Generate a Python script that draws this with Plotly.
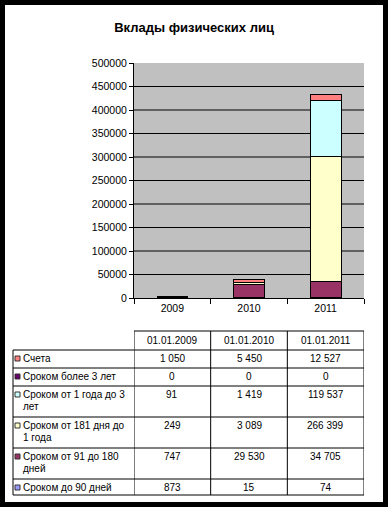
import plotly.graph_objects as go

# ---------------- data ----------------
categories = ["2009", "2010", "2011"]
table_headers = ["01.01.2009", "01.01.2010", "01.01.2011"]

# stacked bottom -> top
series_names = [
    "Сроком до 90 дней",
    "Сроком от 91 до 180 дней",
    "Сроком от 181 дня до 1 года",
    "Сроком от 1 года до 3 лет",
    "Сроком более 3 лет",
    "Счета",
]
table_labels = [
    "Сроком до 90 дней",
    "Сроком от 91 до 180<br>дней",
    "Сроком от 181 дня до<br>1 года",
    "Сроком от 1 года до 3<br>лет",
    "Сроком более 3 лет",
    "Счета",
]
series_colors = ["#9999FF", "#993366", "#FFFFCC", "#CCFFFF", "#660066", "#FF8080"]

do_90 = [873, 15, 74]
ot_91_180 = [747, 29530, 34705]
ot_181_1g = [249, 3089, 266399]
ot_1_3 = [91, 1419, 119537]
bolee_3 = [0, 0, 0]
scheta = [1050, 5450, 12527]
series_values = [do_90, ot_91_180, ot_181_1g, ot_1_3, bolee_3, scheta]

y_ticks = list(range(0, 500001, 50000))

# ---------------- layout geometry (pixels) ----------------
W, H = 388, 507
L, R, T, B = 134, 24, 63, 209
PW, PH = W - L - R, H - T - B
FONT = "Liberation Sans, Arial, sans-serif"


def px(x):
    return (x - L) / PW


def py(y):
    return (H - B - y) / PH


fig = go.Figure()
for name, vals, col in zip(series_names, series_values, series_colors):
    fig.add_trace(go.Bar(
        x=categories, y=vals, name=name,
        marker=dict(color=col, line=dict(color="black", width=1)),
    ))

shapes = []
annotations = []

# gridlines (interior ticks only, as in the reference)
for v in y_ticks[1:-1]:
    shapes.append(dict(type="line", xref="paper", yref="y", x0=0, x1=1, y0=v, y1=v,
                       line=dict(color="black", width=1), layer="below"))

# ---- table ----
header_top, header_bot = 331, 350
table_left, label_x, sq_x0, sq_x1 = 13, 21, 15, 20

rows = list(zip(table_labels, series_colors, series_values))[::-1]  # top row = Счета
row_tops = []
top = header_bot
for idx, (lab, col, vals) in enumerate(rows):
    n = lab.count("<br>") + 1
    h = 18 if n == 1 else 31
    if idx == len(rows) - 1:
        h = 16
    row_tops.append((top, h))
    top += h
table_bottom = top

line_style = dict(color="black", width=1)
# horizontal lines
shapes.append(dict(type="line", xref="paper", yref="paper", x0=0, x1=1,
                   y0=py(header_top), y1=py(header_top), line=line_style))
for y in [header_bot] + [t + h for t, h in row_tops]:
    shapes.append(dict(type="line", xref="paper", yref="paper", x0=px(table_left), x1=1,
                       y0=py(y), y1=py(y), line=line_style))
# vertical lines
shapes.append(dict(type="line", xref="paper", yref="paper", x0=px(table_left), x1=px(table_left),
                   y0=py(header_bot), y1=py(table_bottom), line=line_style))
for i in range(len(categories) + 1):
    xb = i - 0.5
    shapes.append(dict(type="line", xref="x", yref="paper", x0=xb, x1=xb,
                       y0=py(header_top), y1=py(table_bottom), line=line_style))

tfont = dict(family=FONT, size=10, color="black")
for j, hd in enumerate(table_headers):
    annotations.append(dict(text=hd, x=j, xref="x", y=py((header_top + header_bot) / 2),
                            yref="paper", xanchor="center", yanchor="middle", showarrow=False, font=tfont))

for (lab, col, vals), (t, h) in zip(rows, row_tops):
    c = t + 8.5
    for k, part in enumerate(lab.split("<br>")):
        annotations.append(dict(text=part, x=px(label_x), xref="paper", y=py(c + 12 * k), yref="paper",
                                xanchor="left", yanchor="middle", showarrow=False, font=tfont))
    shapes.append(dict(type="rect", xref="paper", yref="paper", x0=px(sq_x0), x1=px(sq_x1),
                       y0=py(c + 2.5), y1=py(c - 2.5), fillcolor=col,
                       line=dict(color="#333333", width=1)))
    for j, v in enumerate(vals):
        annotations.append(dict(text=f"{v:,}".replace(",", " "), x=j, xref="x", y=py(c),
                                yref="paper", xanchor="center", yanchor="middle", showarrow=False, font=tfont))

# black frame around the picture
shapes.append(dict(type="rect", xref="paper", yref="paper", x0=px(0), x1=px(W), y0=py(H), y1=py(0),
                   line=dict(color="black", width=10), fillcolor="rgba(0,0,0,0)", layer="above"))

fig.update_layout(
    width=W, height=H,
    margin=dict(l=L, r=R, t=T, b=B, pad=0),
    paper_bgcolor="white",
    plot_bgcolor="#C0C0C0",
    barmode="stack",
    bargap=0.6,
    showlegend=False,
    title=dict(text="<b>Вклады физических лиц</b>", x=0.5, xref="container", xanchor="center",
               y=1 - 27 / H, yref="container", yanchor="middle",
               font=dict(family=FONT, size=13, color="black")),
    font=dict(family=FONT, size=10, color="black"),
    xaxis=dict(type="category", range=[-0.5, 2.5], showline=True, linecolor="black", linewidth=1,
               ticks="outside", tickson="boundaries", ticklen=5, tickcolor="black",
               showgrid=False, tickfont=dict(family=FONT, size=10.5, color="black")),
    yaxis=dict(range=[0, 500000], tickvals=y_ticks, tickformat="d", showline=True, linecolor="black",
               linewidth=1, ticks="outside", ticklen=4, tickcolor="black", showgrid=False,
               zeroline=False, tickfont=dict(family=FONT, size=10.5, color="black")),
    shapes=shapes,
    annotations=annotations,
)

fig.write_html("out.html", config={"displayModeBar": False},
               post_script="document.body.style.margin='0';document.body.style.overflow='hidden';")
